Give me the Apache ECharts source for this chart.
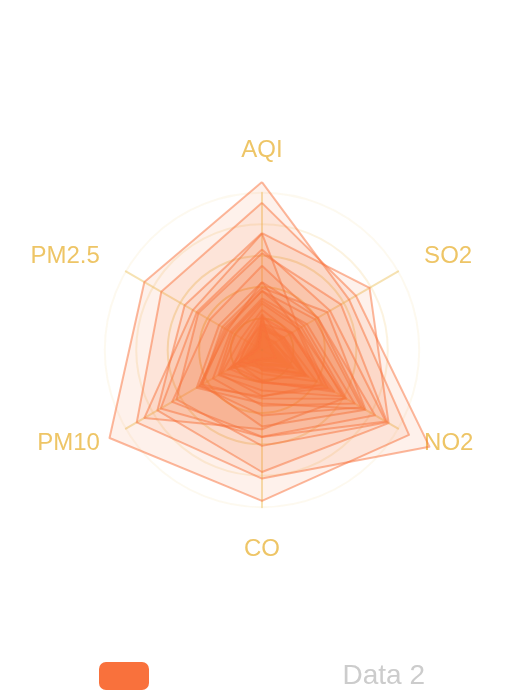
<!DOCTYPE html>
<html>
<head>
<meta charset="utf-8">
<style>html,body{margin:0;padding:0;background:#fff;}#main{width:524px;height:700px;}</style>
<script src="https://cdn.jsdelivr.net/npm/echarts@6/dist/echarts.min.js"></script>
</head>
<body>
<div id="main"></div>
<script>
// Indicators (axis names and maxima)
var indicatorNames = ['AQI', 'PM2.5', 'PM10', 'CO', 'NO2', 'SO2'];
var indicatorMax = [250, 250, 250, 5, 100, 100];
var legendNames = ['Data 1', 'Data 2'];
// Rows: [AQI, PM2.5, PM10, CO, NO2, SO2]
var data1 = [
  [55, 9, 56, 0.46, 18, 6],
  [25, 11, 21, 0.65, 34, 9],
  [56, 7, 63, 0.3, 14, 5],
  [33, 7, 29, 0.33, 16, 6],
  [42, 24, 44, 0.76, 40, 16],
  [82, 58, 90, 1.77, 68, 33],
  [74, 49, 77, 1.46, 48, 27],
  [78, 55, 80, 1.29, 59, 29],
  [267, 216, 280, 4.8, 108, 64],
  [185, 127, 216, 2.52, 61, 27],
  [39, 19, 38, 0.57, 31, 15],
  [41, 11, 40, 0.43, 21, 7],
  [64, 38, 74, 1.04, 46, 22],
  [108, 79, 120, 1.7, 75, 41],
  [108, 63, 116, 1.48, 44, 26],
  [33, 6, 29, 0.34, 13, 5],
  [94, 66, 110, 1.54, 62, 31],
  [186, 142, 192, 3.88, 93, 79],
  [57, 31, 54, 0.96, 32, 14],
  [22, 8, 17, 0.48, 23, 10],
  [39, 15, 36, 0.61, 29, 13],
  [94, 69, 114, 2.08, 73, 39],
  [99, 73, 110, 2.43, 76, 48],
  [31, 12, 30, 0.5, 32, 16],
  [42, 27, 43, 1, 53, 22],
  [154, 117, 157, 3.05, 92, 58],
  [234, 185, 230, 4.09, 123, 69],
  [160, 120, 186, 2.77, 91, 50],
  [134, 96, 165, 2.76, 83, 41],
  [52, 24, 60, 1.03, 50, 21],
  [46, 5, 49, 0.28, 10, 6]
];
var data2 = [];

var chart = echarts.init(document.getElementById('main'));
var FONT = 'Liberation Sans, Arial, Helvetica, sans-serif';
var option = {
  backgroundColor: '#fff',
  animation: false,
  legend: {
    bottom: 5,
    left: 'center',
    itemWidth: 50,
    itemHeight: 28,
    itemGap: 51,
    textStyle: { color: '#fff', fontSize: 28, fontFamily: FONT },
    data: [
      { name: legendNames[0] },
      { name: legendNames[1], textStyle: { color: '#ccc' } }
    ]
  },
  radar: {
    center: ['50%', '50%'],
    radius: '60%',
    shape: 'circle',
    splitNumber: 5,
    indicator: indicatorNames.map(function (n, i) { return { name: n, max: indicatorMax[i] }; }),
    axisNameGap: 30,
    axisName: { color: 'rgb(238, 197, 102)', fontSize: 24, fontFamily: FONT },
    splitLine: {
      lineStyle: {
        width: 2,
        color: [
          'rgba(238, 197, 102, 1)',
          'rgba(238, 197, 102, 0.8)',
          'rgba(238, 197, 102, 0.6)',
          'rgba(238, 197, 102, 0.4)',
          'rgba(238, 197, 102, 0.2)',
          'rgba(238, 197, 102, 0.1)'
        ]
      }
    },
    splitArea: { show: false },
    axisLine: { lineStyle: { width: 2, color: 'rgba(238, 197, 102, 0.5)' } }
  },
  series: [
    {
      name: legendNames[0],
      type: 'radar',
      data: data1,
      symbol: 'none',
      itemStyle: { color: '#F9713C' },
      lineStyle: { width: 2, opacity: 0.5 },
      areaStyle: { opacity: 0.1 }
    },
    {
      name: legendNames[1],
      type: 'radar',
      data: data2,
      symbol: 'none',
      itemStyle: { color: '#fff' }
    }
  ]
};
chart.setOption(option);
</script>
</body>
</html>
